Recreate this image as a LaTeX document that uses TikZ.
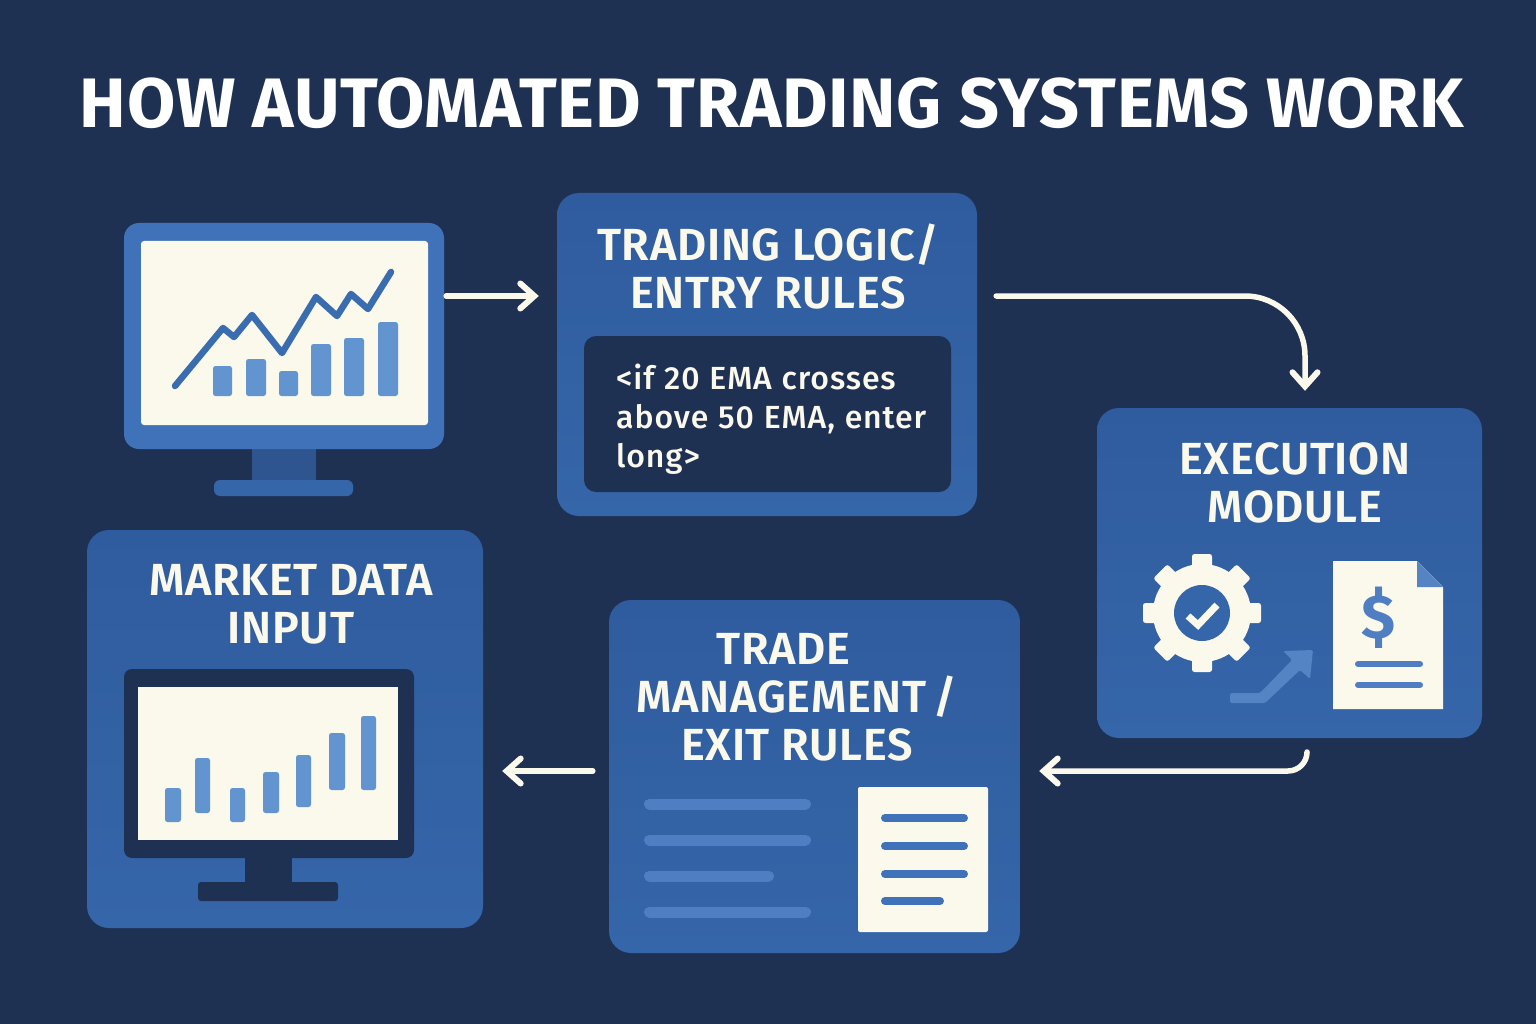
\documentclass[tikz,border=0pt]{standalone}
\usepackage{fontspec}
\setmainfont{Fira Sans}
\newfontfamily\titlefont[LetterSpace=1.0]{Fira Sans Bold}
\newfontfamily\headfont[LetterSpace=1.5]{Fira Sans SemiBold}
\newfontfamily\codefont[LetterSpace=2.8,WordSpace=1.1]{Fira Sans Medium}
\usetikzlibrary{arrows.meta}
\definecolor{bgnavy}{HTML}{1F3153}
\definecolor{boxtop}{HTML}{2F5C9E}
\definecolor{boxbot}{HTML}{3566A9}
\definecolor{cream}{HTML}{FBF8EC}
\definecolor{monblue}{HTML}{3F72B8}
\definecolor{linblue}{HTML}{3A6CB0}
\definecolor{barblue}{HTML}{6295CF}
\definecolor{neckblue}{HTML}{2E5590}
\definecolor{midblue}{HTML}{4F7FC2}
\definecolor{softblue}{HTML}{5584C4}
\tikzset{
  bigbox/.style={rectangle,rounded corners=22pt,top color=boxtop,bottom color=boxbot,draw=none,inner sep=0pt,text=cream},
  head/.style={text=cream,align=center,inner sep=0pt,font=\headfont\fontsize{45}{48}\selectfont},
  flow/.style={draw=cream,line width=5.5pt,line cap=round,line join=round,-{Straight Barb[length=14pt,width=25pt,line width=6pt,line cap=round]}},
  barfill/.style={fill=barblue,rounded corners=2.5pt,draw=none},
  rule/.style={line cap=round,line width=#1},
}
\begin{document}
\begin{tikzpicture}[x=1pt,y=-1pt]
\fill[bgnavy] (0,0) rectangle (1536,1024);
\useasboundingbox (0,0) rectangle (1536,1024);

\node[text=white,inner sep=0pt,font=\titlefont\fontsize{70}{72}\selectfont] (title) at (772,103) {HOW AUTOMATED TRADING SYSTEMS WORK};

% --- monitor ---
\fill[neckblue] (252,445) rectangle (316,482);
\node[rectangle,rounded corners=6pt,fill=boxbot,inner sep=0pt,minimum width=139pt,minimum height=16pt] (monbase) at (283.5,488) {};
\node[rectangle,rounded corners=15pt,fill=monblue,inner sep=0pt,minimum width=320pt,minimum height=226pt] (monitor) at (284,336) {};
\fill[cream,rounded corners=3pt] (141,241) rectangle (428,425);
\draw[linblue,line width=6.5pt,line cap=round,line join=round] (175,386)--(223,328)--(234,337)--(252,315)--(282,353)--(316,297)--(337,316)--(351,294)--(368,309)--(391,272);
\fill[barfill] (213,366) rectangle (232,396);
\fill[barfill] (246,359) rectangle (266,396);
\fill[barfill] (279,371) rectangle (298,396);
\fill[barfill] (311,344) rectangle (331,396);
\fill[barfill] (344,338) rectangle (364,396);
\fill[barfill] (378,322) rectangle (398,396);

% --- trading logic ---
\node[bigbox,minimum width=420pt,minimum height=323pt] (logic) at (767,354.5) {};
\node[head] (logichead) at (768,267) {TRADING LOGIC/\\ENTRY RULES};
\node[rectangle,rounded corners=12pt,fill=bgnavy,inner sep=0pt,minimum width=367pt,minimum height=156pt] (code) at (767.5,414) {};
\node[text=cream,align=left,anchor=west,inner sep=0pt,font=\codefont\fontsize{32}{39}\selectfont] (codetext) at (616,419) {<if 20 EMA crosses\\above 50 EMA, enter\\long>};

% --- execution ---
\node[bigbox,minimum width=385pt,minimum height=330pt] (exec) at (1289.5,573) {};
\node[head] (exechead) at (1295,483) {EXECUTION\\MODULE};
% gear
\begin{scope}[shift={(1202,613)}]
  \foreach \a in {0,45,...,315}{
    \fill[cream,rotate=\a,rounded corners=2.5pt] (-10,-59) rectangle (10,-30);
  }
  \fill[cream] (0,0) circle (49);
  \fill[boxbot] (0,0) circle (28);
  \draw[cream,line width=7pt,line join=miter] (-14,3)--(-4,12)--(15,-8);
\end{scope}
% arrow into the document
\fill[softblue,rounded corners=1.5pt] (1230,693)--(1260,693)--(1292,660)--(1283,651)--(1313,650)--(1310,679)--(1300,670)--(1265,703)--(1230,703)--cycle;
% document
\fill[cream] (1333,561)--(1417,561)--(1443,587)--(1443,709)--(1333,709)--cycle;
\fill[softblue] (1417,561)--(1443,587)--(1417,587)--cycle;
\node[text=midblue,inner sep=0pt,font=\titlefont\fontsize{62}{64}\selectfont] (dollar) at (1379,618) {\$};
\draw[midblue,rule=6pt] (1358,664)--(1420,664);
\draw[midblue,rule=6pt] (1358,685)--(1420,685);

% --- trade management ---
\node[bigbox,minimum width=411pt,minimum height=353pt] (trade) at (814.5,776.5) {};
\node[head] (tradehead) at (797,697) {\hspace*{-27pt}TRADE\\MANAGEMENT\,/\\EXIT RULES};
\draw[midblue,rule=11pt] (649.5,804)--(805.5,804);
\draw[midblue,rule=11pt] (649.5,840)--(805.5,840);
\draw[midblue,rule=11pt] (649.5,876)--(768.5,876);
\draw[midblue,rule=11pt] (649.5,912)--(805.5,912);
\fill[cream,rounded corners=2pt] (858,787) rectangle (988,932);
\draw[monblue,rule=8pt] (885,818)--(964,818);
\draw[monblue,rule=8pt] (885,846)--(964,846);
\draw[monblue,rule=8pt] (885,874)--(964,874);
\draw[monblue,rule=8pt] (885,901)--(940,901);

% --- market data ---
\node[bigbox,minimum width=396pt,minimum height=398pt] (market) at (285,729) {};
\node[head] (markethead) at (291,604) {MARKET DATA\\INPUT};
\fill[bgnavy] (245,850) rectangle (292,884);
\fill[bgnavy,rounded corners=3pt] (198,882) rectangle (338,901);
\fill[bgnavy,rounded corners=8pt] (124,669) rectangle (414,858);
\fill[cream] (138,687) rectangle (398,840);
\fill[barfill] (165,788) rectangle (181,822);
\fill[barfill] (195,758) rectangle (210,813);
\fill[barfill] (230,788) rectangle (245,822);
\fill[barfill] (263,772) rectangle (279,813);
\fill[barfill] (296,755) rectangle (311,807);
\fill[barfill] (329,733) rectangle (345,790);
\fill[barfill] (361,716) rectangle (376,790);

% --- connectors ---
\draw[flow] ([xshift=2pt,yshift=40pt]monitor.east) -- ([xshift=-18pt,yshift=58.5pt]logic.west);
\draw[flow,rounded corners=60pt] ([xshift=19pt,yshift=58.5pt]logic.east) -| ([xshift=15.5pt,yshift=17pt]exec.north);
\draw[flow,rounded corners=19pt] ([xshift=17.5pt,yshift=-14pt]exec.south) |- ([xshift=19pt,yshift=5.5pt]trade.east);
\draw[flow] ([xshift=-16pt,yshift=5.5pt]trade.west) -- ([xshift=19pt,yshift=-42pt]market.east);
\end{tikzpicture}
\end{document}
